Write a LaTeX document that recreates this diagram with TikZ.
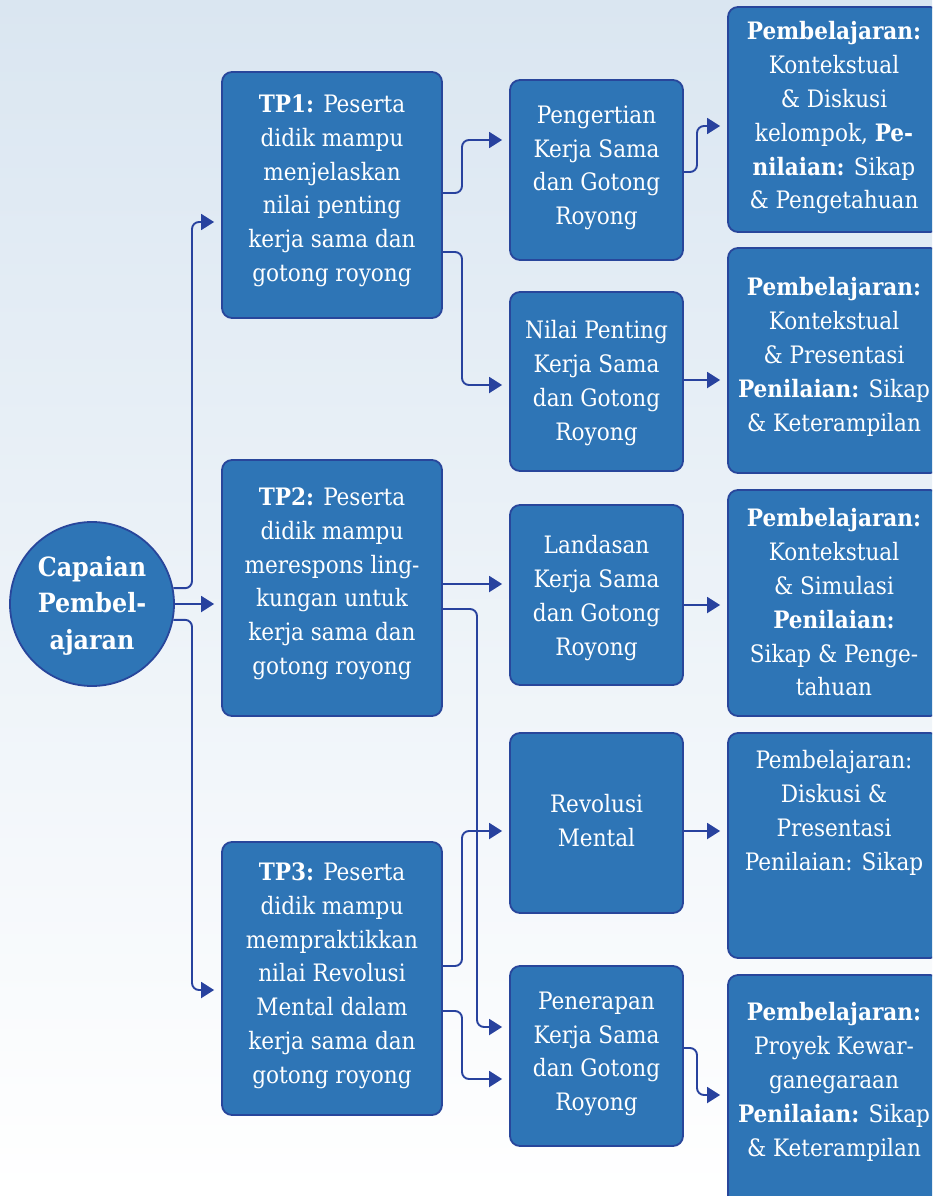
\documentclass[tikz,border=0pt]{standalone}
\usepackage{fontspec}
\setmainfont{DejaVuSerifCondensed.ttf}[BoldFont=DejaVuSerifCondensed-Bold.ttf]
\usetikzlibrary{arrows.meta}
\definecolor{boxfill}{RGB}{46,117,182}
\definecolor{boxline}{RGB}{40,70,155}
\definecolor{conncol}{RGB}{40,66,158}
\definecolor{bgtop}{RGB}{218,230,241}
\tikzset{
  box/.style={draw=boxline, fill=boxfill, line width=1.8pt, rounded corners=10pt, inner sep=0pt},
  txt/.style={text=white, align=center, inner sep=0pt, anchor=north, font=\fontsize{24}{33.8}\selectfont},
  conn/.style={draw=conncol, line width=1.9pt, rounded corners=7pt, -{Triangle[length=13pt,width=16pt]}, shorten >=7pt}
}
\begin{document}
\begin{tikzpicture}[x=1pt,y=-1pt]
\clip (0,0) rectangle (932,1196);
\shade[top color=bgtop, bottom color=white] (0,0) rectangle (932,1196);

% circle
\node[box, circle, minimum size=164pt] (cp) at (92,604) {};
\node[txt, font=\bfseries\fontsize{26.5}{36.5}\selectfont] (cpt) at (92,556) {Capaian\\Pembel-\\ajaran};

% TP boxes
\node[box, minimum width=220pt, minimum height=246pt] (tp1) at (332,195) {};
\node[txt] (tp1t) at (332,94.5) {\textbf{TP1:} Peserta\\didik mampu\\menjelaskan\\nilai penting\\kerja sama dan\\gotong royong};
\node[box, minimum width=220pt, minimum height=256pt] (tp2) at (332,588) {};
\node[txt] (tp2t) at (332,487.5) {\textbf{TP2:} Peserta\\didik mampu\\merespons ling-\\kungan untuk\\kerja sama dan\\gotong royong};
\node[box, minimum width=220pt, minimum height=273pt] (tp3) at (332,978.5) {};
\node[txt] (tp3t) at (332,862.5) {\textbf{TP3:} Peserta\\didik mampu\\mempraktikkan\\nilai Revolusi\\Mental dalam\\kerja sama dan\\gotong royong};

% middle boxes
\node[box, minimum width=173pt, minimum height=180pt] (pen) at (596.5,170) {};
\node[txt] (pent) at (596.5,105.5) {Pengertian\\Kerja Sama\\dan Gotong\\Royong};
\node[box, minimum width=173pt, minimum height=179pt] (nil) at (596.5,381.5) {};
\node[txt] (nilt) at (596.5,320.5) {Nilai Penting\\Kerja Sama\\dan Gotong\\Royong};
\node[box, minimum width=173pt, minimum height=180pt] (lan) at (596.5,595) {};
\node[txt] (lant) at (596.5,535.5) {Landasan\\Kerja Sama\\dan Gotong\\Royong};
\node[box, minimum width=173pt, minimum height=180pt] (rev) at (596.5,823) {};
\node[txt] (revt) at (596.5,794.5) {Revolusi\\Mental};
\node[box, minimum width=173pt, minimum height=180pt] (ter) at (596.5,1056) {};
\node[txt] (tert) at (596.5,991.5) {Penerapan\\Kerja Sama\\dan Gotong\\Royong};

% right boxes
\node[box, minimum width=212pt, minimum height=225pt] (r1) at (834,119.5) {};
\node[txt] (r1t) at (834,21.5) {\textbf{Pembelajaran:}\\Kontekstual\\\& Diskusi\\kelompok, \textbf{Pe-}\\\textbf{nilaian:} Sikap\\\& Pengetahuan};
\node[box, minimum width=212pt, minimum height=225pt] (r2) at (834,360.5) {};
\node[txt] (r2t) at (834,277.5) {\textbf{Pembelajaran:}\\Kontekstual\\\& Presentasi\\\textbf{Penilaian:} Sikap\\\& Keterampilan};
\node[box, minimum width=212pt, minimum height=226pt] (r3) at (834,603) {};
\node[txt] (r3t) at (834,508.5) {\textbf{Pembelajaran:}\\Kontekstual\\\& Simulasi\\\textbf{Penilaian:}\\Sikap \& Penge-\\tahuan};
\node[box, minimum width=212pt, minimum height=225pt] (r4) at (834,845.5) {};
\node[txt] (r4t) at (834,750.5) {Pembelajaran:\\Diskusi \&\\Presentasi\\Penilaian: Sikap};
\node[box, minimum width=212pt, minimum height=230pt] (r5) at (834,1090) {};
\node[txt] (r5t) at (834,1002.5) {\textbf{Pembelajaran:}\\Proyek Kewar-\\ganegaraan\\\textbf{Penilaian:} Sikap\\\& Keterampilan};

% connectors
\draw[conn] (cp.11) -| (192,222) -- (tp1.west |- 0,222);
\draw[conn] (cp.east) -- (tp2.west |- cp.east);
\draw[conn] (cp.-11) -| (192,990) -- (tp3.west |- 0,990);

\draw[conn] (tp1.east |- 0,193) -| (462,140) -- (pen.west |- 0,140);
\draw[conn] (tp1.east |- 0,252) -| (462,385) -- (nil.west |- 0,385);
\draw[conn] (tp2.east |- 0,584) -- (lan.west |- 0,584);
\draw[conn] (tp2.east |- 0,609) -| (477,1027) -- (ter.west |- 0,1027);
\draw[conn] (tp3.east |- 0,966) -| (462,831) -- (rev.west |- 0,831);
\draw[conn] (tp3.east |- 0,1011) -| (462,1079) -- (ter.west |- 0,1079);

\draw[conn] (pen.east |- 0,172) -| (697,126) -- (r1.west |- 0,126);
\draw[conn] (nil.east |- 0,380) -- (r2.west |- 0,380);
\draw[conn] (lan.east |- 0,605) -- (r3.west |- 0,605);
\draw[conn] (rev.east |- 0,831) -- (r4.west |- 0,831);
\draw[conn] (ter.east |- 0,1048) -| (697,1095) -- (r5.west |- 0,1095);
\end{tikzpicture}
\end{document}
